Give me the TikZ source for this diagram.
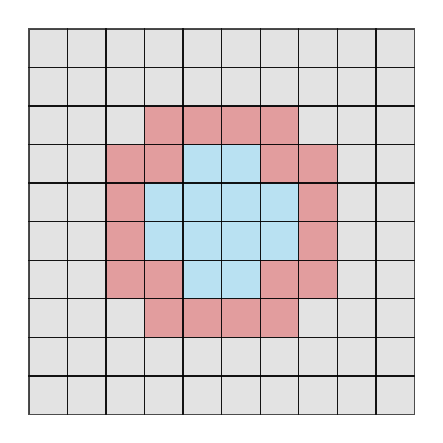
\documentclass[tikz,border=0pt]{standalone}
\usepackage{tikz}
\definecolor{cellGray}{HTML}{E3E3E3}
\definecolor{cellRed}{HTML}{E29D9E}
\definecolor{cellBlue}{HTML}{B9E1F2}
\definecolor{paper}{HTML}{FFFFFF}

\begin{document}
\begin{tikzpicture}[
    x=1cm, y=1cm,
    cellgray/.style={fill=cellGray},
    cellred/.style={fill=cellRed},
    cellblue/.style={fill=cellBlue},
    celledge/.style={draw=black, draw opacity=0.7, line width=1pt},
]

% --- Page margins ---
\useasboundingbox[fill=paper] (-0.75,-0.74) rectangle (10.74,10.75);

% --- Background cells ---
\foreach \c in {0,...,9}
  \foreach \r in {0,...,9}
    \fill[cellgray] (\c,\r) rectangle ++(1,1);

% --- Outer ring ---
\foreach \c/\r in {3/7,4/7,5/7,6/7,
                   2/6,3/6,6/6,7/6,
                   2/5,7/5,
                   2/4,7/4,
                   2/3,3/3,6/3,7/3,
                   3/2,4/2,5/2,6/2}
  \fill[cellred] (\c,\r) rectangle ++(1,1);

% --- Inner disc ---
\foreach \c/\r in {4/6,5/6,
                   3/5,4/5,5/5,6/5,
                   3/4,4/4,5/4,6/4,
                   4/3,5/3}
  \fill[cellblue] (\c,\r) rectangle ++(1,1);

% --- Cell borders ---
\foreach \c in {0,...,9}
  \foreach \r in {0,...,9}
    \draw[celledge] (\c,\r) rectangle ++(1,1);

\end{tikzpicture}
\end{document}
